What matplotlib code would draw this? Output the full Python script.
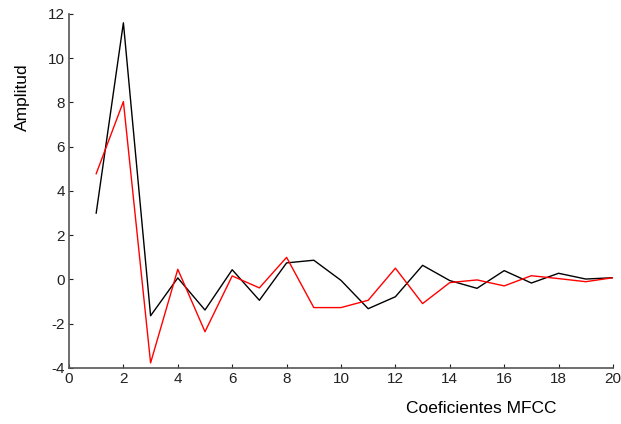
import matplotlib
matplotlib.use("Agg")
import matplotlib.pyplot as plt

coef = list(range(1, 21))
serie_negra = [3.0, 11.6, -1.64, 0.07, -1.38, 0.44, -0.94, 0.75, 0.87, -0.04,
               -1.32, -0.78, 0.64, -0.05, -0.40, 0.40, -0.16, 0.28, 0.02, 0.08]
serie_roja = [4.78, 8.04, -3.77, 0.46, -2.36, 0.16, -0.38, 1.0, -1.27, -1.27,
              -0.94, 0.51, -1.09, -0.14, -0.02, -0.29, 0.17, 0.04, -0.10, 0.08]
xticks = list(range(0, 21, 2))
yticks = list(range(-4, 13, 2))

plt.rcParams['font.family'] = ['Liberation Sans', 'DejaVu Sans']
plt.rcParams['axes.unicode_minus'] = False

fig = plt.figure(figsize=(6.21, 4.24), dpi=100)
ax = fig.add_axes([0.1111, 0.1321, 0.876, 0.835])

ax.plot(coef, serie_negra, color='black', lw=1.0)
ax.plot(coef, serie_roja, color='red', lw=1.0)

ax.set_xlim(0, 20)
ax.set_ylim(-4, 12)
ax.set_xticks(xticks)
ax.set_yticks(yticks)

for s in ('top', 'right'):
    ax.spines[s].set_visible(False)
for s in ('left', 'bottom'):
    ax.spines[s].set_color('#555555')
    ax.spines[s].set_linewidth(1.2)

ax.tick_params(direction='in', length=3, width=0.8, colors='#222222',
               labelsize=11, pad=3)

ax.set_ylabel('Amplitud', fontsize=12.5)
ax.yaxis.set_label_coords(-0.072, 0.766)
ax.set_xlabel('Coeficientes MFCC', fontsize=12.5)
ax.xaxis.set_label_coords(0.757, -0.092)

fig.savefig('out.png', dpi=100)
